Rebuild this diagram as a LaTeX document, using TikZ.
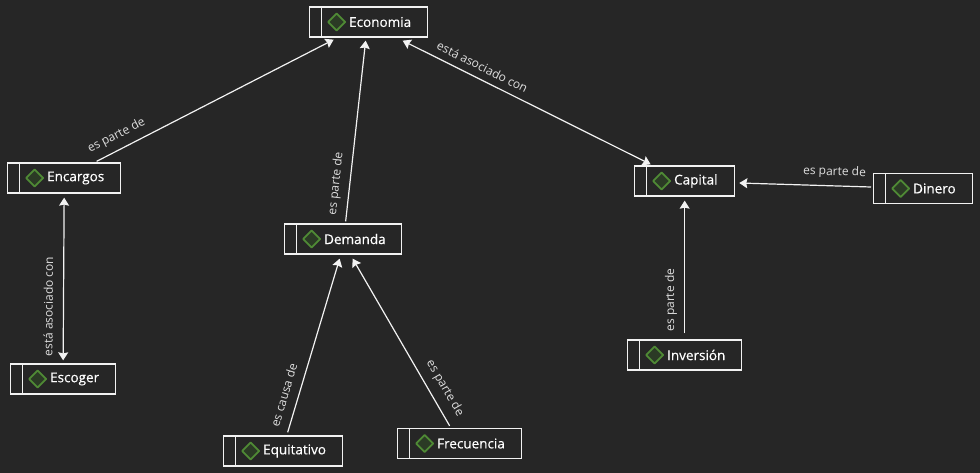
\documentclass[tikz,border=0pt]{standalone}
\usepackage{fontspec}
\setmainfont{Open Sans}
\newfontfamily\conceptfont[FakeBold=0.35]{Open Sans}
\definecolor{bgdark}{HTML}{262626}
\definecolor{linewhite}{HTML}{F2F2F2}
\definecolor{labelgray}{HTML}{DEDEDE}
\definecolor{markgreen}{HTML}{4F8A35}
\definecolor{markfill}{HTML}{2B3A25}
\usetikzlibrary{arrows.meta}
\tikzset{
    concept/.style={draw=linewhite, line width=1.3pt, anchor=west, align=left,
        text=white, minimum height=30pt, inner ysep=0pt, inner xsep=0pt, text width=#1,
        font=\conceptfont\fontsize{13.5}{16}\selectfont,
        execute at begin node={\hspace*{39.5pt}},
        path picture={
            \draw[linewhite, line width=1.3pt] ([xshift=11.5pt]path picture bounding box.north west) -- ([xshift=11.5pt]path picture bounding box.south west);
            \draw[markgreen, fill=markfill, line width=1.7pt, line join=round] ([xshift=18.5pt]path picture bounding box.west) -- ([xshift=27pt,yshift=8.5pt]path picture bounding box.west) -- ([xshift=35.5pt]path picture bounding box.west) -- ([xshift=27pt,yshift=-8.5pt]path picture bounding box.west) -- cycle;
        }},
    relation/.style={draw=linewhite, line width=1.2pt, -{Stealth[length=8pt,width=10pt,inset=1pt]}},
    bothways/.style={{Stealth[length=8pt,width=10pt,inset=1pt]}-{Stealth[length=8pt,width=10pt,inset=1pt]}},
    relationlabel/.style={text=labelgray, font=\fontsize{12}{14}\selectfont, inner sep=0pt, sloped}
}
\begin{document}
\begin{tikzpicture}[x=1pt,y=-1pt]
    \fill[bgdark] (0,0) rectangle (980,473);
    \useasboundingbox (0,0) rectangle (980,473);

    \node[concept=118pt] (economia) at (309,22) {Economia};
    \node[concept=113pt] (encargos) at (7,178) {Encargos};
    \node[concept=117pt] (demanda) at (284,239) {Demanda};
    \node[concept=100pt] (capital) at (634,181) {Capital};
    \node[concept=99pt] (dinero) at (873,188.5) {Dinero};
    \node[concept=105pt] (escoger) at (10,379) {Escoger};
    \node[concept=114pt] (inversion) at (627,355) {Inversión};
    \node[concept=119pt] (equitativo) at (223,451) {Equitativo};
    \node[concept=124pt] (frecuencia) at (397,443.5) {Frecuencia};

    \draw[relation] ([shift={(32.5,-1)}]encargos.north) -- node[relationlabel, pos=0.11, above=7pt] (l1) {es parte de} ([shift={(-35,2)}]economia.south);
    \draw[relation] ([shift={(2.5,-2)}]demanda.north) -- node[relationlabel, pos=0.2, above=7pt] (l2) {es parte de} ([shift={(-3,3)}]economia.south);
    \draw[relation, bothways] ([shift={(34,3)}]economia.south) -- node[relationlabel, pos=0.3, above=7pt] (l3) {está asociado con} ([shift={(-34,-1)}]capital.north);
    \draw[relation] ([shift={(-2,-1.5)}]dinero.west) -- node[relationlabel, pos=0.28, above=7pt] (l4) {es parte de} ([shift={(4,2)}]capital.east);
    \draw[relation] ([shift={(0,-6)}]inversion.north) -- node[relationlabel, pos=0.25, above=7pt] (l5) {es parte de} ([shift={(0,4)}]capital.south);
    \draw[relation, bothways] ([shift={(0,4)}]encargos.south) -- node[relationlabel, pos=0.67, above=10pt] (l6) {está asociado con} ([shift={(0,-3)}]escoger.north);
    \draw[relation] ([shift={(4.5,-3)}]equitativo.north) -- node[relationlabel, pos=0.19, above=9pt] (l7) {es causa de} ([shift={(-3.5,4)}]demanda.south);
    \draw[relation] ([shift={(-10,-2)}]frecuencia.north) -- node[relationlabel, pos=0.18, above=8pt] (l8) {es parte de} ([shift={(9.5,4)}]demanda.south);
\end{tikzpicture}
\end{document}
